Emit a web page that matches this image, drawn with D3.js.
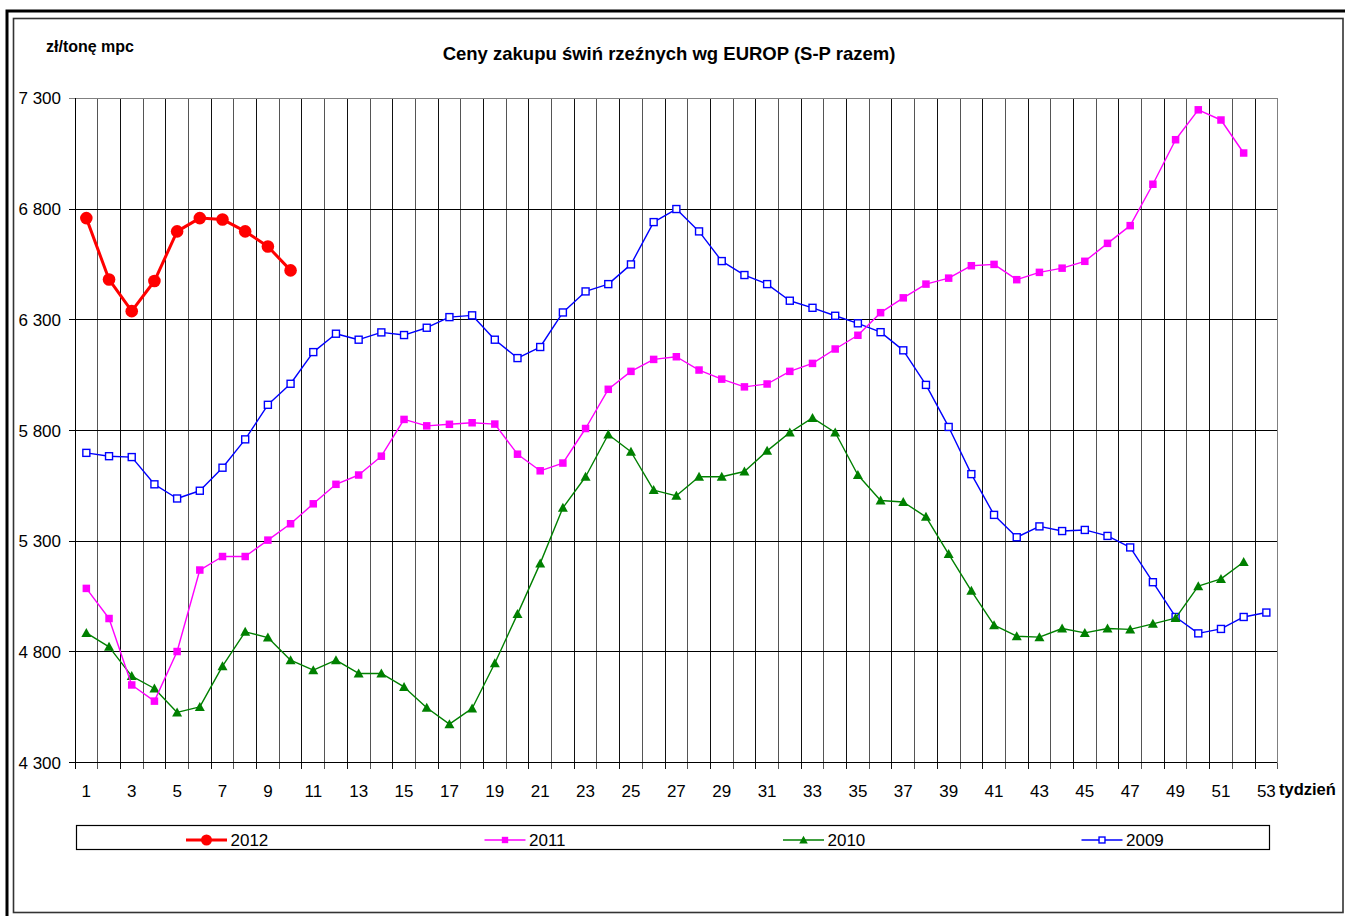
<!DOCTYPE html>
<html>
<head>
<meta charset="utf-8">
<script src="https://cdn.jsdelivr.net/npm/d3@7"></script>
<style>
  body { margin: 0; background: #fff; }
  svg text { font-family: Arial, "Liberation Sans", sans-serif; fill: #000; }
</style>
</head>
<body>
<div id="chart"></div>
<script>
// week categories and tick labels
var weeks = d3.range(1, 54);
var weekLabels = [1, 3, 5, 7, 9, 11, 13, 15, 17, 19, 21, 23, 25, 27, 29, 31, 33, 35, 37, 39, 41, 43, 45, 47, 49, 51, 53];
var yTicks = [4300, 4800, 5300, 5800, 6300, 6800, 7300];

// prices zł/tonę mpc per week
var s2012 = [6759, 6482, 6339, 6475, 6699, 6759, 6753, 6699, 6631, 6523];
var s2011 = [5087, 4951, 4651, 4578, 4802, 5170, 5231, 5231, 5305, 5379,
             5469, 5557, 5599, 5684, 5850, 5821, 5828, 5835, 5829, 5693,
             5618, 5653, 5809, 5986, 6067, 6121, 6133, 6073, 6032, 5997,
             6010, 6067, 6103, 6168, 6230, 6332, 6399, 6461, 6488, 6544,
             6550, 6481, 6514, 6533, 6564, 6645, 6725, 6912, 7113, 7248,
             7202, 7053];
var s2010 = [4886, 4823, 4691, 4635, 4527, 4552, 4736, 4891, 4865, 4763,
             4718, 4763, 4703, 4703, 4642, 4548, 4474, 4545, 4749, 4971,
             5200, 5451, 5591, 5782, 5704, 5531, 5505, 5591, 5591, 5615,
             5708, 5791, 5857, 5791, 5599, 5484, 5477, 5410, 5242, 5076,
             4921, 4871, 4867, 4906, 4886, 4906, 4902, 4927, 4953, 5097,
             5130, 5206];
var s2009 = [5699, 5684, 5680, 5557, 5493, 5528, 5632, 5760, 5916, 6011,
             6154, 6237, 6210, 6243, 6231, 6264, 6312, 6320, 6210, 6127,
             6177, 6333, 6428, 6461, 6550, 6741, 6800, 6699, 6565, 6502,
             6461, 6386, 6354, 6318, 6284, 6244, 6162, 6006, 5816, 5603,
             5419, 5318, 5367, 5346, 5351, 5324, 5272, 5115, 4958, 4884,
             4904, 4958, 4978];

var series = [
  {name: "2012", values: s2012, color: "#ff0000", width: 3, marker: "circle"},
  {name: "2011", values: s2011, color: "#ff00ff", width: 1.4, marker: "square"},
  {name: "2010", values: s2010, color: "#008000", width: 1.4, marker: "triangle"},
  {name: "2009", values: s2009, color: "#0000ff", width: 1.4, marker: "open"}
];

var W = 1345, H = 916;
var plot = {left: 75, top: 98.3, right: 1277.7, bottom: 762.7};

var svg = d3.select("#chart").append("svg")
  .attr("width", W)
  .attr("height", H);

// frames
svg.append("rect").attr("x", 7).attr("y", 11).attr("width", 1345).attr("height", 916)
  .attr("fill", "none").attr("stroke", "#000").attr("stroke-width", 3);
svg.append("rect").attr("x", 13.5).attr("y", 18.5).attr("width", 1329.5).attr("height", 894)
  .attr("fill", "none").attr("stroke", "#333").attr("stroke-width", 1.6);

var x = d3.scaleBand().domain(weeks).range([plot.left, plot.right]).padding(0);
var y = d3.scaleLinear().domain([4300, 7300]).range([plot.bottom, plot.top]);
var cx = function(w) { return x(w) + x.bandwidth() / 2; };

// grid
var grid = svg.append("g").attr("shape-rendering", "crispEdges");
var bounds = weeks.map(function(w) { return x(w); }).concat([plot.right]);
grid.selectAll(".vgrid").data(bounds).enter().append("line")
  .attr("x1", function(d) { return d; }).attr("x2", function(d) { return d; })
  .attr("y1", plot.top).attr("y2", plot.bottom + 6)
  .attr("stroke", function(d, i) { return i % 2 ? "#555" : "#111"; })
  .attr("stroke-width", 1);
grid.selectAll(".hgrid").data(yTicks).enter().append("line")
  .attr("x1", plot.left - 6).attr("x2", plot.right)
  .attr("y1", function(d) { return y(d); }).attr("y2", function(d) { return y(d); })
  .attr("stroke", function(d) { return d === 7300 ? "#808080" : "#000"; })
  .attr("stroke-width", 1);
grid.append("line").attr("x1", plot.right).attr("x2", plot.right)
  .attr("y1", plot.top).attr("y2", plot.bottom).attr("stroke", "#808080");
grid.append("line").attr("x1", plot.left).attr("x2", plot.left)
  .attr("y1", plot.top).attr("y2", plot.bottom + 6).attr("stroke", "#000");

// y axis labels
var fmt = function(v) { return d3.format(",")(v).replace(",", " "); };
svg.append("g").selectAll("text").data(yTicks).enter().append("text")
  .attr("x", 61).attr("y", function(d) { return y(d); })
  .attr("dy", "0.36em")
  .attr("text-anchor", "end")
  .style("font-size", "17px")
  .text(fmt);

// x axis labels
svg.append("g").selectAll("text").data(weekLabels).enter().append("text")
  .attr("x", function(d) { return cx(d); })
  .attr("y", 797)
  .attr("text-anchor", "middle")
  .style("font-size", "17px")
  .text(function(d) { return d; });

svg.append("text").attr("x", 1279).attr("y", 795)
  .style("font-size", "16.5px").style("font-weight", "bold")
  .text("tydzień");

// titles
svg.append("text").attr("x", 669).attr("y", 60)
  .attr("text-anchor", "middle")
  .style("font-size", "18.5px").style("font-weight", "bold")
  .text("Ceny zakupu świń rzeźnych wg EUROP (S-P razem)");
svg.append("text").attr("x", 46).attr("y", 52)
  .style("font-size", "16px").style("font-weight", "bold")
  .text("zł/tonę mpc");

// markers
function drawMarker(g, type, color, px, py, s) {
  if (type === "circle") {
    g.append("circle").attr("cx", px).attr("cy", py).attr("r", 6.3 * s).attr("fill", color);
  } else if (type === "square") {
    var a = 7.5 * s;
    g.append("rect").attr("x", px - a / 2).attr("y", py - a / 2)
      .attr("width", a).attr("height", a).attr("fill", color);
  } else if (type === "open") {
    var b = 7 * s;
    g.append("rect").attr("x", px - b / 2).attr("y", py - b / 2)
      .attr("width", b).attr("height", b).attr("fill", "#fff")
      .attr("stroke", color).attr("stroke-width", 1.4);
  } else {
    var t = 5 * s;
    g.append("path")
      .attr("d", "M" + px + "," + (py - t) + "L" + (px + t) + "," + (py + t * 0.8) + "L" + (px - t) + "," + (py + t * 0.8) + "Z")
      .attr("fill", color);
  }
}

var line = d3.line()
  .x(function(d, i) { return cx(weeks[i]); })
  .y(function(d) { return y(d); });

series.slice().reverse().forEach(function(s) {
  var g = svg.append("g");
  g.append("path").datum(s.values)
    .attr("d", line)
    .attr("fill", "none")
    .attr("stroke", s.color)
    .attr("stroke-width", s.width)
    .attr("stroke-linejoin", "round");
  s.values.forEach(function(v, i) {
    drawMarker(g, s.marker, s.color, cx(weeks[i]), y(v), 1);
  });
});

// legend
svg.append("rect").attr("x", 76.5).attr("y", 825.5).attr("width", 1193).attr("height", 24)
  .attr("fill", "#fff").attr("stroke", "#000").attr("stroke-width", 1.2);
var legendX = [186, 484.5, 783, 1081.5];
series.forEach(function(s, i) {
  var g = svg.append("g");
  var lx = legendX[i];
  g.append("line").attr("x1", lx).attr("x2", lx + 41).attr("y1", 840).attr("y2", 840)
    .attr("stroke", s.color).attr("stroke-width", s.width);
  drawMarker(g, s.marker, s.color, lx + 20.5, 840, s.marker === "circle" ? 0.87 : 0.85);
  g.append("text").attr("x", lx + 44.5).attr("y", 846)
    .style("font-size", "17px")
    .text(s.name);
});
</script>
</body>
</html>
